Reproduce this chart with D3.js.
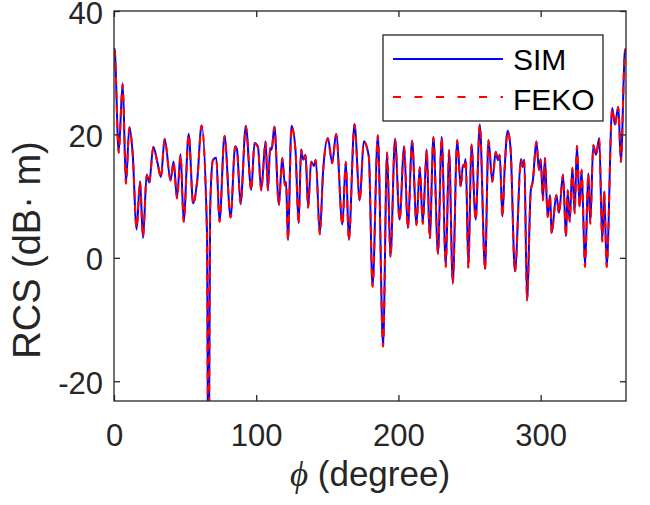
<!DOCTYPE html>
<html>
<head>
<meta charset="utf-8">
<script src="https://cdn.jsdelivr.net/npm/d3@7"></script>
<style>
  html, body { margin: 0; padding: 0; background: #fff; }
  svg { display: block; }
</style>
</head>
<body>
<svg id="chart" width="650" height="505"></svg>
<script>
// ---- data ----
const angles = [0,0.5,3.3,6.1,8.4,10.8,13.1,15.9,18.3,20.4,23.0,24.8,27.6,30.7,33.0,35.6,39.8,41.9,44.3,46.8,49.0,52.5,55.7,58.5,61.6,65.4,66.4,67.6,69.6,71.9,74.2,77.7,82.0,85.2,86.5,89.0,92.7,96.5,98.8,101.2,103.5,106.6,108.2,109.8,110.8,112.8,115.9,118.3,120.2,121.0,122.3,124.8,127.6,129.8,131.6,133.0,134.7,136.5,138.6,140.5,141.9,144.7,147.1,150.4,153.4,156.2,160.6,163.0,165.1,169.1,172.8,175.6,179.2,181.8,185.5,189.2,192.0,194.4,197.6,200.8,204.0,206.6,209.6,212.7,215.0,217.1,219.9,222.0,224.6,227.8,230.4,233.3,235.6,238.2,241.3,243.8,245.4,246.2,247.3,249.2,251.3,254.3,257.2,260.9,263.3,266.0,268.4,270.0,271.2,273.1,274.7,276.8,278.9,281.9,286.2,287.3,288.5,290.4,293.0,294.5,297.0,298.8,300.0,301.6,303.0,304.9,306.6,307.7,311.0,312.9,315.7,317.8,319.0,320.4,322.3,323.9,325.5,327.4,328.8,331.2,333.5,334.9,337.0,338.9,341.2,343.3,344.7,346.4,350.3,352.2,354.6,356.4,359.2,360];
const simValues = [34.0,33.7,17.2,28.3,12.1,21.2,17.0,4.6,12.4,3.2,13.5,12.2,18.0,15.3,13.1,19.3,12.6,15.6,9.7,16.8,5.9,20.1,8.8,12.5,21.5,4.0,-45,8.0,15.9,16.2,5.9,19.8,6.6,18.1,17.5,8.8,21.4,11.0,18.6,18.0,11.0,18.9,11.0,17.8,17.5,21.3,8.6,16.2,11.8,12.3,2.9,21.4,17.5,5.6,17.6,15.9,16.7,8.2,15.6,14.9,15.9,3.9,14.3,19.4,15.4,20.1,5.4,15.6,2.9,21.7,9.3,18.9,16.4,-4.6,19.9,-14.3,17.1,0.2,19.3,6.2,18.1,4.8,19.0,5.4,14.7,5.6,17.6,3.2,19.6,0.7,19.6,-1.4,17.5,-4.1,19.1,11.6,15.1,14.8,16.0,-1.6,18.4,6.2,21.6,-1.8,19.1,12.4,17.2,15.8,16.7,6.7,14.6,20.6,17.5,-2.2,16.0,14.8,15.9,-6.8,10.8,12.5,18.9,14.3,16.0,9.4,16.2,6.7,10.2,4.0,10.2,7.3,13.5,3.5,11.0,5.9,14.6,7.3,18.2,8.3,14.3,-1.4,13.7,5.6,18.3,16.7,19.4,2.7,10.8,-1.4,24.3,21.6,24.5,15.6,33.4,34.0];
const fekoValues = [33.8,33.5,17.0,28.1,12.0,21.1,16.9,4.8,12.3,3.4,13.4,12.1,17.9,15.2,13.0,19.2,12.5,15.5,9.6,16.7,5.8,20.0,8.7,12.4,21.4,3.8,-45,7.8,15.8,16.1,5.8,19.7,6.5,18.0,17.4,8.7,21.3,10.9,18.5,17.9,10.9,18.8,10.9,17.7,17.4,21.2,8.5,16.1,11.7,12.2,2.8,21.3,17.4,5.5,17.5,15.8,16.6,8.1,15.5,14.8,15.8,3.8,14.2,19.3,15.3,20.0,5.3,15.5,2.8,21.6,9.2,18.8,16.3,-4.7,19.8,-14.4,17.0,0.1,19.2,6.1,18.0,4.7,18.9,5.3,14.6,5.5,17.5,3.1,19.5,0.6,19.5,-1.5,17.4,-4.2,19.0,11.5,15.0,14.7,15.9,-1.7,18.3,6.1,21.5,-1.9,19.0,12.3,17.1,15.7,16.6,6.6,14.5,20.5,17.4,-2.3,15.9,14.7,15.8,-6.9,10.7,12.4,18.8,14.2,15.9,9.3,16.1,6.6,10.1,3.9,10.1,7.2,13.4,3.4,10.9,5.8,14.5,7.2,18.1,8.2,14.2,-1.5,13.6,5.5,18.2,16.6,19.3,2.6,10.7,-1.5,24.2,21.5,24.4,15.5,33.3,33.9];
const xTicks = [0, 100, 200, 300];
const yTicks = [-20, 0, 20, 40];
const seriesNames = ["SIM", "FEKO"];

// ---- layout ----
const svg = d3.select("#chart");
const L = 114, R = 626, T = 11, B = 401;
const axisColor = "#262626";
const x = d3.scaleLinear().domain([0, 360]).range([L, R]);
const y = d3.scaleLinear().domain([-23.2, 40]).range([B, T]);

svg.append("defs").append("clipPath").attr("id", "clip")
  .append("rect").attr("x", L).attr("y", T).attr("width", R - L).attr("height", B - T);

const line = d3.line()
  .x((d, i) => x(angles[i]))
  .y(d => y(d))
  .curve(d3.curveMonotoneX);

const plot = svg.append("g").attr("clip-path", "url(#clip)");
plot.append("path").datum(simValues)
  .attr("d", line).attr("fill", "none")
  .attr("stroke", "#0000ff").attr("stroke-width", 2).attr("stroke-linejoin", "round");
plot.append("path").datum(fekoValues)
  .attr("d", line).attr("fill", "none")
  .attr("stroke", "#ff0000").attr("stroke-width", 2).attr("stroke-dasharray", "8,6");

// ---- axes ----
const font = "'Liberation Sans', Arial, Helvetica, sans-serif";
const fmt = d => String(d);
function styleAxis(g) {
  g.select(".domain").remove();
  g.selectAll(".tick line").attr("stroke", axisColor).attr("stroke-width", 1.3);
  g.selectAll("text").attr("fill", axisColor).attr("font-family", font).attr("font-size", 31);
}
const gx = svg.append("g").attr("transform", `translate(0,${B})`)
  .call(d3.axisBottom(x).tickValues(xTicks).tickSize(-6).tickPadding(23).tickFormat(fmt));
styleAxis(gx);
const gxt = svg.append("g").attr("transform", `translate(0,${T})`)
  .call(d3.axisTop(x).tickValues(xTicks).tickSize(-6).tickFormat(""));
styleAxis(gxt);
const gy = svg.append("g").attr("transform", `translate(${L},0)`)
  .call(d3.axisLeft(y).tickValues(yTicks).tickSize(-6).tickPadding(11).tickFormat(fmt));
styleAxis(gy);
gy.selectAll("text").attr("dy", "0.39em");
const gyr = svg.append("g").attr("transform", `translate(${R},0)`)
  .call(d3.axisRight(y).tickValues(yTicks).tickSize(-6).tickFormat(""));
styleAxis(gyr);

svg.append("rect").attr("x", L).attr("y", T).attr("width", R - L).attr("height", B - T)
  .attr("fill", "none").attr("stroke", axisColor).attr("stroke-width", 1.3);

// ---- labels ----
const xl = svg.append("text").attr("x", (L + R) / 2).attr("y", 486)
  .attr("text-anchor", "middle").attr("fill", axisColor)
  .attr("font-family", font).attr("font-size", 35);
xl.append("tspan").attr("font-family", "'Liberation Serif', 'DejaVu Serif', serif")
  .attr("font-style", "italic").text("ϕ");
xl.append("tspan").text(" (degree)");

svg.append("text")
  .attr("transform", `translate(40,250) rotate(-90)`)
  .attr("text-anchor", "middle").attr("fill", axisColor)
  .attr("font-family", font).attr("font-size", 38)
  .text("RCS (dB· m)");

// ---- legend ----
const lg = svg.append("g");
lg.append("rect").attr("x", 383).attr("y", 35).attr("width", 220).attr("height", 86)
  .attr("fill", "#fff").attr("stroke", axisColor).attr("stroke-width", 1.3);
lg.append("line").attr("x1", 393).attr("x2", 503).attr("y1", 59).attr("y2", 59)
  .attr("stroke", "#0000ff").attr("stroke-width", 2);
lg.append("line").attr("x1", 393).attr("x2", 503).attr("y1", 97).attr("y2", 97)
  .attr("stroke", "#ff0000").attr("stroke-width", 2).attr("stroke-dasharray", "8,13.5");
lg.append("text").attr("x", 513).attr("y", 70).attr("font-family", font).attr("font-size", 30)
  .attr("fill", "#000").text(seriesNames[0]);
lg.append("text").attr("x", 513).attr("y", 110).attr("font-family", font).attr("font-size", 30)
  .attr("fill", "#000").text(seriesNames[1]);
</script>
</body>
</html>
